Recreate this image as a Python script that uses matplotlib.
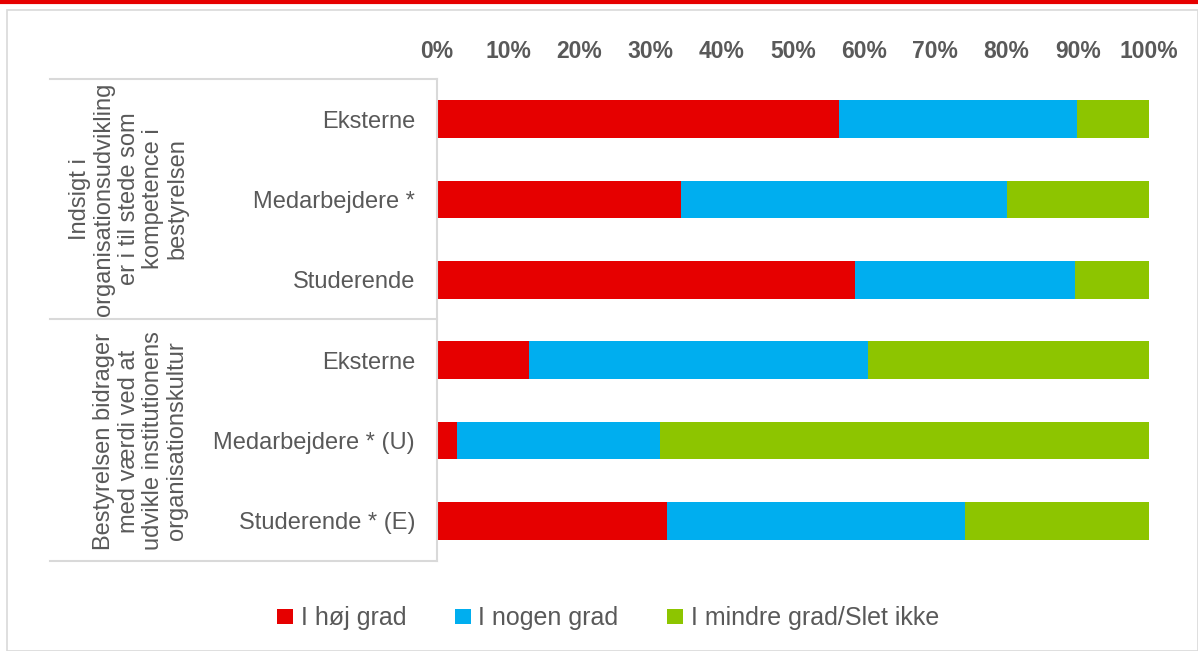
import matplotlib
matplotlib.use("Agg")
import matplotlib.pyplot as plt
from matplotlib.lines import Line2D
from matplotlib.patches import Rectangle
import numpy as np

plt.rcParams['font.family'] = ['Liberation Sans', 'DejaVu Sans']

categories = ["Eksterne", "Medarbejdere *", "Studerende",
              "Eksterne", "Medarbejdere * (U)", "Studerende * (E)"]
groups = ["Indsigt i\norganisationsudvikling\ner i til stede som\nkompetence i\nbestyrelsen",
          "Bestyrelsen bidrager\nmed værdi ved at\nudvikle institutionens\norganisationskultur"]
series_names = ["I høj grad", "I nogen grad", "I mindre grad/Slet ikke"]
hoej = [56.5, 34.3, 58.7, 12.9, 2.8, 32.3]
nogen = [33.4, 45.8, 30.9, 47.6, 28.5, 41.9]
mindre = [10.1, 19.9, 10.4, 39.5, 68.7, 25.8]
xticklabels = ["0%", "10%", "20%", "30%", "40%", "50%", "60%", "70%", "80%", "90%", "100%"]

colors = ["#E60000", "#00AEEF", "#8DC500"]
W, H = 1198, 651
fig = plt.figure(figsize=(W/100, H/100), dpi=100)

# frame and top red line
fig.add_artist(Rectangle((7/W, 0), 1 - 7/W, 1 - 10/H, transform=fig.transFigure,
                         fill=False, edgecolor="#D9D9D9", linewidth=1.2))
fig.add_artist(Line2D([0, 1], [1 - 1.5/H, 1 - 1.5/H], transform=fig.transFigure,
                      color="#E60000", linewidth=3))

ax_l, ax_r, ax_t, ax_b = 437, 1149, 79, 561
ax = fig.add_axes([ax_l/W, 1 - ax_b/H, (ax_r - ax_l)/W, (ax_b - ax_t)/H])
y = np.arange(len(categories))
left = np.zeros(len(categories))
for vals, c, name in zip([hoej, nogen, mindre], colors, series_names):
    ax.barh(y, vals, left=left, height=0.47, color=c, label=name)
    left = left + np.array(vals)

ax.set_xlim(0, 100)
ax.set_ylim(len(categories) - 0.5, -0.5)
ax.xaxis.tick_top()
ax.set_xticks(np.arange(0, 101, 10))
ax.set_xticklabels(xticklabels, fontsize=16.5, fontweight='bold', color="#595959")
ax.tick_params(axis='x', length=0, pad=11.3)
ax.set_yticks(y)
ax.set_yticklabels(categories, fontsize=17, color="#595959")
ax.tick_params(axis='y', length=0, pad=15.8)
for s in ax.spines.values():
    s.set_visible(False)

# category box lines
lc = "#D9D9D9"
for yy in [79, 319, 561]:
    fig.add_artist(Line2D([50/W, 437/W], [1 - yy/H, 1 - yy/H], transform=fig.transFigure,
                          color=lc, linewidth=1.5))
fig.add_artist(Line2D([437/W, 437/W], [1 - 79/H, 1 - 561/H], transform=fig.transFigure,
                      color=lc, linewidth=1.5))

# group labels
fig.text(188/W, 1 - 199/H, groups[0], rotation=90, ha='right', va='center',
         multialignment='center', fontsize=17, color="#595959", linespacing=1.13)
fig.text(188/W, 1 - 441/H, groups[1], rotation=90, ha='right', va='center',
         multialignment='center', fontsize=17, color="#595959", linespacing=1.13)

fig.legend(loc='center', bbox_to_anchor=(608/W, 1 - 618/H), ncol=3, frameon=False,
           fontsize=18, handlelength=0.64, handleheight=0.56, handletextpad=0.3,
           columnspacing=1.95, labelcolor="#595959", borderpad=0, borderaxespad=0)

fig.savefig("out.png", dpi=100)
